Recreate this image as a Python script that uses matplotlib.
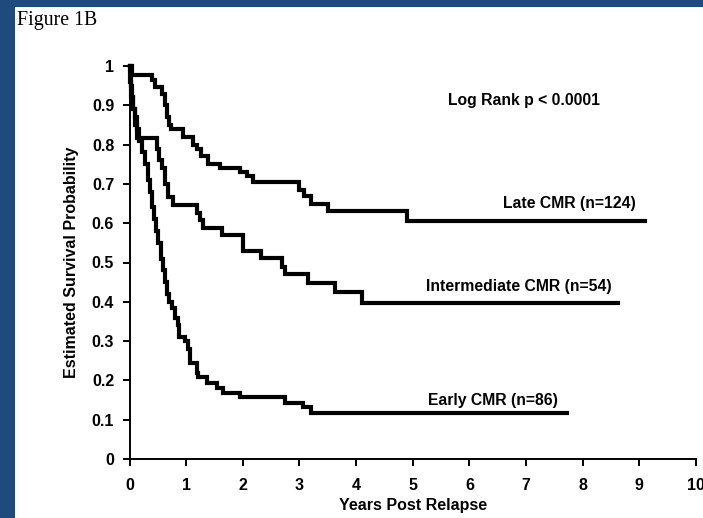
import matplotlib.pyplot as plt
from matplotlib.patches import Rectangle

# Kaplan-Meier estimates (years post relapse, survival)
late_t = [0, 0.04, 0.40, 0.45, 0.57, 0.63, 0.66, 0.70, 0.74, 0.95, 1.12, 1.20, 1.27, 1.39,
          1.60, 1.95, 2.08, 2.18, 3.00, 3.08, 3.20, 3.50, 4.89, 9.10]
late_s = [1.0, 0.977, 0.965, 0.947, 0.93, 0.90, 0.87, 0.85, 0.84, 0.82, 0.80, 0.79, 0.77, 0.75,
          0.74, 0.73, 0.72, 0.705, 0.685, 0.67, 0.65, 0.632, 0.606, 0.606]

inter_t = [0, 0.01, 0.03, 0.06, 0.09, 0.13, 0.48, 0.52, 0.58, 0.63, 0.68, 0.77, 1.19, 1.25,
           1.30, 1.63, 2.00, 2.33, 2.69, 2.74, 3.15, 3.62, 4.10, 8.62]
inter_s = [1.0, 0.96, 0.92, 0.89, 0.85, 0.818, 0.79, 0.76, 0.74, 0.70, 0.667, 0.646, 0.625, 0.608,
           0.588, 0.57, 0.53, 0.511, 0.489, 0.471, 0.449, 0.426, 0.398, 0.398]

early_t = [0, 0.02, 0.04, 0.07, 0.10, 0.13, 0.17, 0.22, 0.27, 0.32, 0.36, 0.40, 0.43, 0.46,
           0.50, 0.55, 0.60, 0.63, 0.66, 0.70, 0.75, 0.80, 0.85, 0.88, 0.98, 1.03, 1.07, 1.19,
           1.21, 1.36, 1.55, 1.65, 1.95, 2.74, 3.06, 3.20, 7.72]
early_s = [1.0, 0.95, 0.92, 0.89, 0.87, 0.84, 0.81, 0.78, 0.75, 0.71, 0.68, 0.64, 0.61, 0.58,
           0.55, 0.51, 0.48, 0.45, 0.42, 0.40, 0.385, 0.36, 0.34, 0.31, 0.30, 0.28, 0.245, 0.22,
           0.208, 0.193, 0.18, 0.169, 0.157, 0.143, 0.133, 0.118, 0.118]

labels = ['Late CMR (n=124)', 'Intermediate CMR (n=54)', 'Early CMR (n=86)']
label_pos = [(8.94, 0.651), (8.51, 0.438), (7.56, 0.150)]

plt.rc('font', family='Liberation Sans', weight='bold', size=11.5)
plt.rc('axes', labelweight='bold')

fig = plt.figure(figsize=(7.03, 5.18), dpi=100, facecolor='#1f4a7e')
fig.patches.append(Rectangle((15 / 703, 0), 1, 1 - 7 / 518, transform=fig.transFigure,
                             facecolor='white', edgecolor='none', zorder=-10))
fig.text(17 / 703, 1 - 11 / 518, 'Figure 1B', family='Liberation Serif', weight='normal',
         fontsize=14.3, va='top', ha='left')

ax = fig.add_axes([129.5 / 703, 1 - 459 / 518, (696 - 129.5) / 703, (459 - 66) / 518])
ax.set_facecolor('none')
ax.spines['top'].set_visible(False)
ax.spines['right'].set_visible(False)
ax.spines['bottom'].set_linewidth(1.4)
ax.spines['left'].set_linewidth(1.4)
ax.tick_params(direction='out', length=5, width=1.4)
ax.tick_params(axis='x', pad=9)
ax.tick_params(axis='y', pad=6)

for t, s in [(late_t, late_s), (inter_t, inter_s), (early_t, early_s)]:
    ax.step(t, s, where='post', color='black', linewidth=3.0, solid_joinstyle='miter', clip_on=False)

for lab, (x, y) in zip(labels, label_pos):
    ax.text(x, y, lab, ha='right', va='center', fontsize=11.3)
ax.text(6.96, 0.911, 'Log Rank p < 0.0001', ha='center', va='center', fontsize=11.3)

ax.set_xlim(0, 10)
ax.set_ylim(0, 1)
ax.set_xticks(range(11))
ax.set_yticks([i / 10 for i in range(11)])
ax.set_yticklabels(['0'] + ['0.%d' % i for i in range(1, 10)] + ['1'])
ax.set_xlabel('Years Post Relapse', fontsize=11.5, labelpad=3)
ax.set_ylabel('Estimated Survival Probability', fontsize=11.5, labelpad=9)

plt.savefig('out.png', dpi=100, facecolor=fig.get_facecolor())
plt.close()
